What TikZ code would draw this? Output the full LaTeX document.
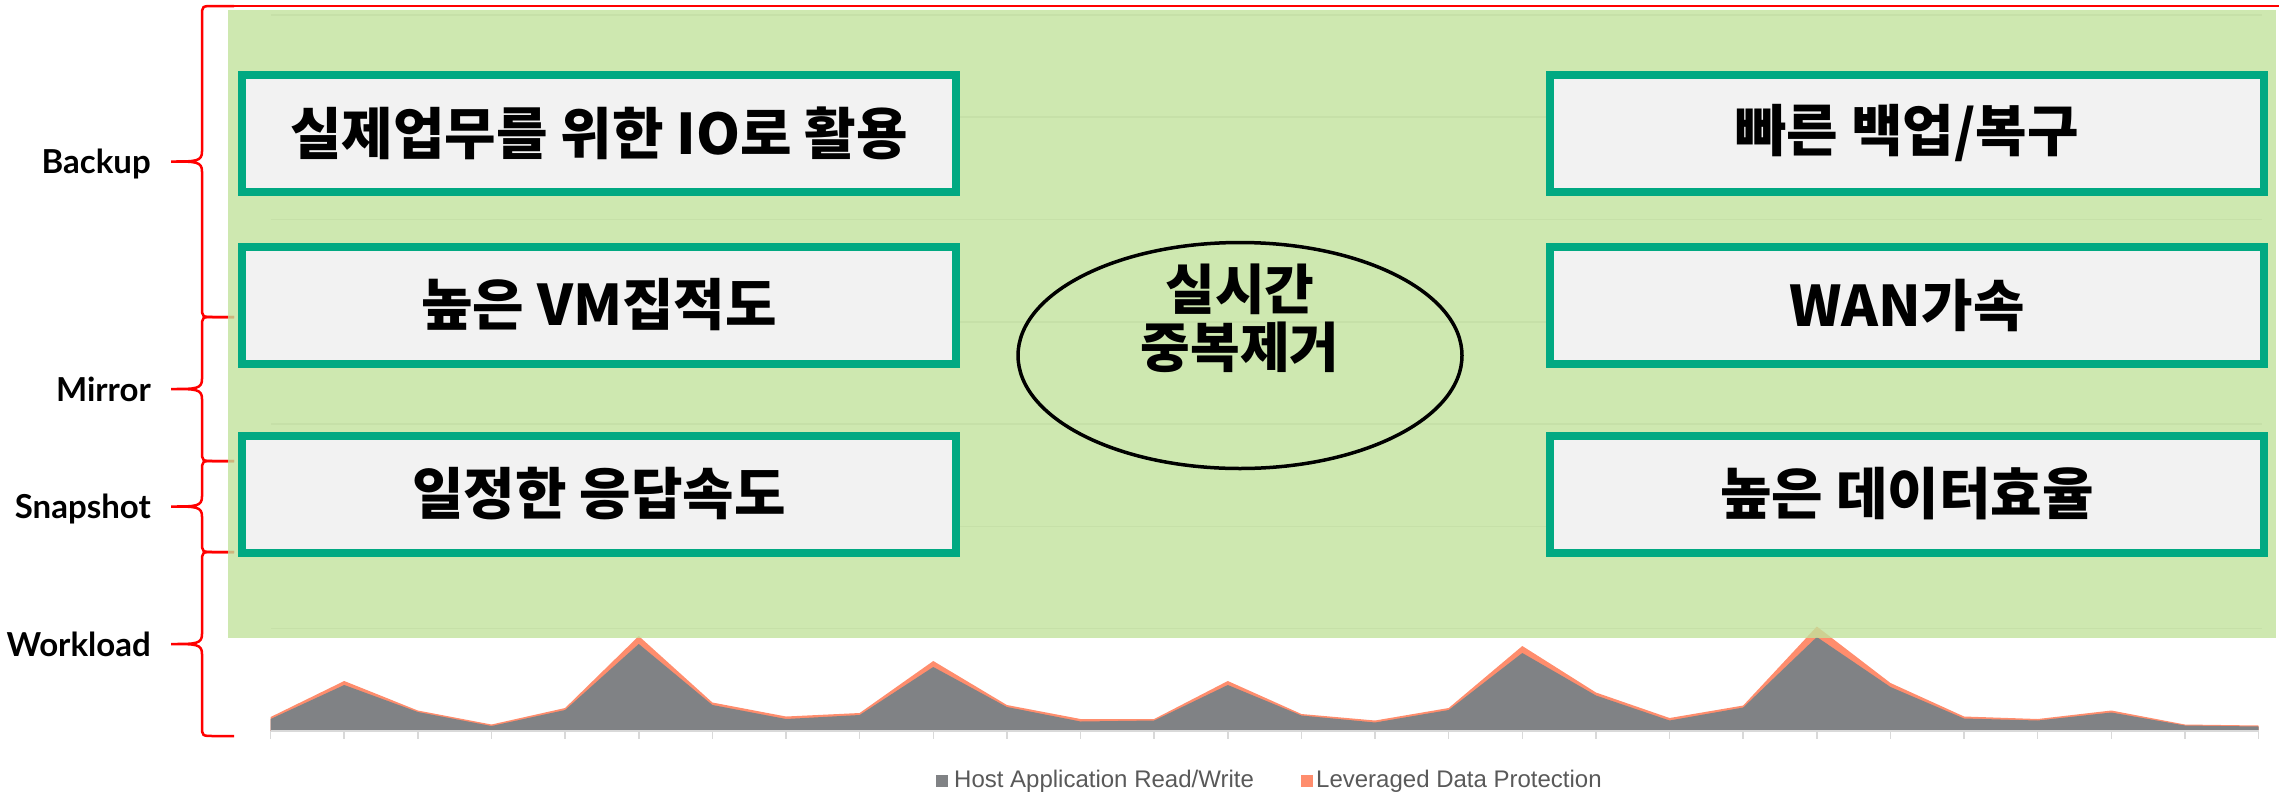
\documentclass[tikz,border=0pt]{standalone}
\usepackage{fontspec}
\setmainfont{Noto Sans CJK KR}
\newfontfamily\layerfont{Lato}
\newfontfamily\legendfont{Liberation Sans}
\usetikzlibrary{shapes.geometric}

\definecolor{hpegreen}{RGB}{1,169,130}
\definecolor{panelgreen}{RGB}{194,226,156}
\definecolor{boxgray}{RGB}{242,242,242}
\definecolor{areagray}{RGB}{128,130,133}
\definecolor{areaorange}{RGB}{255,141,109}
\definecolor{gridgray}{RGB}{217,217,217}
\definecolor{legendtext}{RGB}{89,89,89}

\begin{document}
\begin{tikzpicture}[
   x=1pt, y=-1pt,
   benefit/.style={draw=hpegreen, line width=8pt, fill=boxgray,
      minimum width=714pt, minimum height=117pt, inner sep=0pt,
      font=\fontsize{56}{62}\selectfont\bfseries},
   dedupring/.style={ellipse, draw=black, line width=3.5pt,
      minimum width=444pt, minimum height=226pt},
   layerbrace/.style={red, line width=2.5pt},
   layerlabel/.style={anchor=base east, inner sep=0pt,
      font=\layerfont\fontsize{33}{36}\selectfont\bfseries},
   gridline/.style={gridgray, line width=1.5pt},
   legendkey/.style={minimum size=12pt, inner sep=0pt},
   legendlabel/.style={anchor=west, inner sep=0pt, text=legendtext,
      font=\legendfont\fontsize{24}{26}\selectfont}
]
\useasboundingbox (0,0) rectangle (2279,796);

% workload chart behind the panel
\foreach \k in {1,...,7}
   \draw[gridline] (271,{731-102.3*\k}) -- (2262,{731-102.3*\k});
\fill[areaorange] (270.6,731)
   \foreach \y [count=\i from 0] in {717,681,710.5,724.5,708,636,702.5,716.5,713,661,705,719,719,681,
      714,720.5,708,646,692.5,718,705.5,626.5,683,716.5,719,710.5,724.5,725.5}
      { -- ({270.6+73.63*\i},\y) } -- (2258.6,731) -- cycle;
\fill[areagray] (270.6,731)
   \foreach \y [count=\i from 0] in {719,685,712,726,710,644,705,719,715,667,707,721.5,720.5,685,
      715.5,722.5,710,653,695.5,720.5,707.5,637,687,718.5,720.5,712.5,725.5,726.5}
      { -- ({270.6+73.63*\i},\y) } -- (2258.6,731) -- cycle;
\draw[gridgray, line width=2.5pt] (270.6,731) -- (2258.6,731);
\foreach \i in {0,...,27}
   \draw[gridline] ({270.6+73.63*\i},731) -- ({270.6+73.63*\i},739);

% layer braces
\foreach \ya/\yb/\lbl in {6/317/Backup, 317/461/Mirror, 461/552/Snapshot, 552/736/Workload} {
   \pgfmathsetmacro\ym{(\ya+\yb)/2}
   \draw[layerbrace] (234,\ya) -- (214,\ya) .. controls (202,\ya) .. (202,{\ya+10})
      -- (202,{\ym-10}) .. controls (202,\ym) and (196,\ym) .. (171,\ym)
      .. controls (196,\ym) and (202,\ym) .. (202,{\ym+10})
      -- (202,{\yb-10}) .. controls (202,\yb) .. (214,\yb) -- (234,\yb);
   \node[layerlabel] (\lbl) at (151,{\ym+12}) {\lbl};
}
\draw[layerbrace] (234,6) -- (2279,6);

\fill[panelgreen, fill opacity=0.8] (228,10) rectangle (2276,638);

\node[benefit] (realio) at (599,133.5) {실제업무를 위한 IO로 활용};
\node[benefit] (vmdensity) at (599,305) {높은 VM집적도};
\node[benefit] (steadyresp) at (599,494) {일정한 응답속도};
\node[benefit] (fastbackup) at (1907,133.5) {빠른 백업/복구};
\node[benefit] (wanaccel) at (1907,305) {WAN가속};
\node[benefit] (dataeff) at (1907,494) {높은 데이터효율};

\node[dedupring] (dedup) at (1240,355.5) {};
\node[align=center, inner sep=0pt, font=\fontsize{54}{58}\selectfont\bfseries] (deduptext)
   at ([yshift=37pt]dedup.center) {실시간\\중복제거};

% legend
\node[legendkey, fill=areagray] (hostkey) at (942,781) {};
\node[legendlabel] (hostlabel) at (954,781) {Host Application Read/Write};
\node[legendkey, fill=areaorange] (protkey) at (1307,781) {};
\node[legendlabel] (protlabel) at (1316,781) {Leveraged Data Protection};
\end{tikzpicture}
\end{document}
